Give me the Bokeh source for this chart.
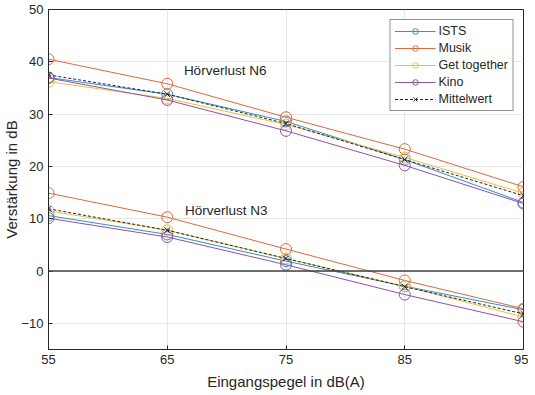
from bokeh.plotting import figure
from bokeh.models import Span, FixedTicker, Legend
from bokeh.embed import file_html
from bokeh.resources import INLINE
from bokeh.core.properties import value

levels = [55, 65, 75, 85, 95]

# Hörverlust N6
n6_ists = [37.0, 33.8, 28.6, 21.3, 13.1]
n6_musik = [40.5, 35.8, 29.4, 23.3, 16.1]
n6_get = [36.2, 33.0, 28.0, 21.7, 14.9]
n6_kino = [36.9, 32.7, 26.8, 20.2, 12.9]
n6_mean = [37.5, 33.8, 28.2, 21.3, 14.4]

# Hörverlust N3
n3_ists = [10.6, 7.0, 1.9, -2.9, -7.4]
n3_musik = [14.9, 10.3, 4.2, -1.8, -7.2]
n3_get = [11.5, 7.8, 2.4, -2.9, -8.8]
n3_kino = [10.1, 6.5, 1.2, -4.5, -9.7]
n3_mean = [11.9, 7.8, 2.4, -3.0, -8.2]

names = ["ISTS", "Musik", "Get together", "Kino"]
colors = ["#2f8fd0", "#e0683a", "#efbd3a", "#9450a3"]
x_ticks = [55, 65, 75, 85, 95]
y_ticks = [-10, 0, 10, 20, 30, 40, 50]

FONT = "Liberation Sans"

p = figure(width=528, height=392, x_range=(55, 95), y_range=(-15, 50),
           output_backend="svg", toolbar_location=None,
           min_border_left=10, min_border_right=5, min_border_top=9, min_border_bottom=10)
p.background_fill_color = "white"
p.border_fill_color = "white"
p.outline_line_color = "#262626"
p.outline_line_width = 1

for ax in (p.xaxis[0], p.yaxis[0]):
    ax.axis_line_color = "#262626"
    ax.major_tick_line_color = "#262626"
    ax.major_tick_in = 4
    ax.major_tick_out = 0
    ax.minor_tick_line_color = None
    ax.major_label_text_font = FONT
    ax.major_label_text_font_size = "13px"
    ax.major_label_text_color = "#262626"
    ax.axis_label_text_font = FONT
    ax.axis_label_text_font_size = "15px"
    ax.axis_label_text_font_style = "normal"
    ax.axis_label_text_color = "#262626"

p.xaxis.ticker = FixedTicker(ticks=x_ticks)
p.yaxis.ticker = FixedTicker(ticks=y_ticks)
p.xaxis.axis_label = "Eingangspegel in dB(A)"
p.yaxis.axis_label = "Verstärkung in dB"
p.xaxis.axis_label_standoff = 6
p.yaxis.axis_label_standoff = -2
p.yaxis.major_label_standoff = 5

p.xgrid.grid_line_color = "#e6e6e6"
p.ygrid.grid_line_color = "#e6e6e6"
p.xgrid.ticker = FixedTicker(ticks=x_ticks)
p.ygrid.ticker = FixedTicker(ticks=y_ticks)

p.add_layout(Span(location=0, dimension="width", line_color="#404040", line_width=1.5))

items = []
for name, col, a, b in zip(names, colors, [n6_ists, n6_musik, n6_get, n6_kino],
                           [n3_ists, n3_musik, n3_get, n3_kino]):
    r1 = p.line(levels, a, line_color=col, line_width=1)
    s1 = p.scatter(levels, a, marker="circle", size=11, fill_color=None, line_color=col, line_width=1)
    p.line(levels, b, line_color=col, line_width=1)
    p.scatter(levels, b, marker="circle", size=11, fill_color=None, line_color=col, line_width=1)
    items.append((name, [r1, s1]))

m1 = p.line(levels, n6_mean, line_color="#222222", line_width=1, line_dash="3 2")
ms1 = p.scatter(levels, n6_mean, marker="x", size=8, line_color="#222222", line_width=1)
p.line(levels, n3_mean, line_color="#222222", line_width=1, line_dash="3 2")
p.scatter(levels, n3_mean, marker="x", size=8, line_color="#222222", line_width=1)
items.append(("Mittelwert", [m1, ms1]))

legend = Legend(items=items, location="top_right")
legend.label_text_font = FONT
legend.label_text_font_size = "12.5px"
legend.label_text_color = "#262626"
legend.glyph_width = 41
legend.glyph_height = 14
legend.label_height = 14
legend.spacing = 3
legend.padding = 4
legend.margin = 10
legend.label_standoff = 3
legend.border_line_color = "#262626"
legend.border_line_width = 1
legend.background_fill_alpha = 1
p.add_layout(legend)

p.text(x=[66.4], y=[38.3], text=["Hörverlust N6"], text_font=value(FONT),
       text_font_size="13.5px", text_color="#262626", text_baseline="middle", text_align="left")
p.text(x=[66.5], y=[11.5], text=["Hörverlust N3"], text_font=value(FONT),
       text_font_size="13.5px", text_color="#262626", text_baseline="middle", text_align="left")

open("out.html", "w").write(file_html(p, INLINE))
